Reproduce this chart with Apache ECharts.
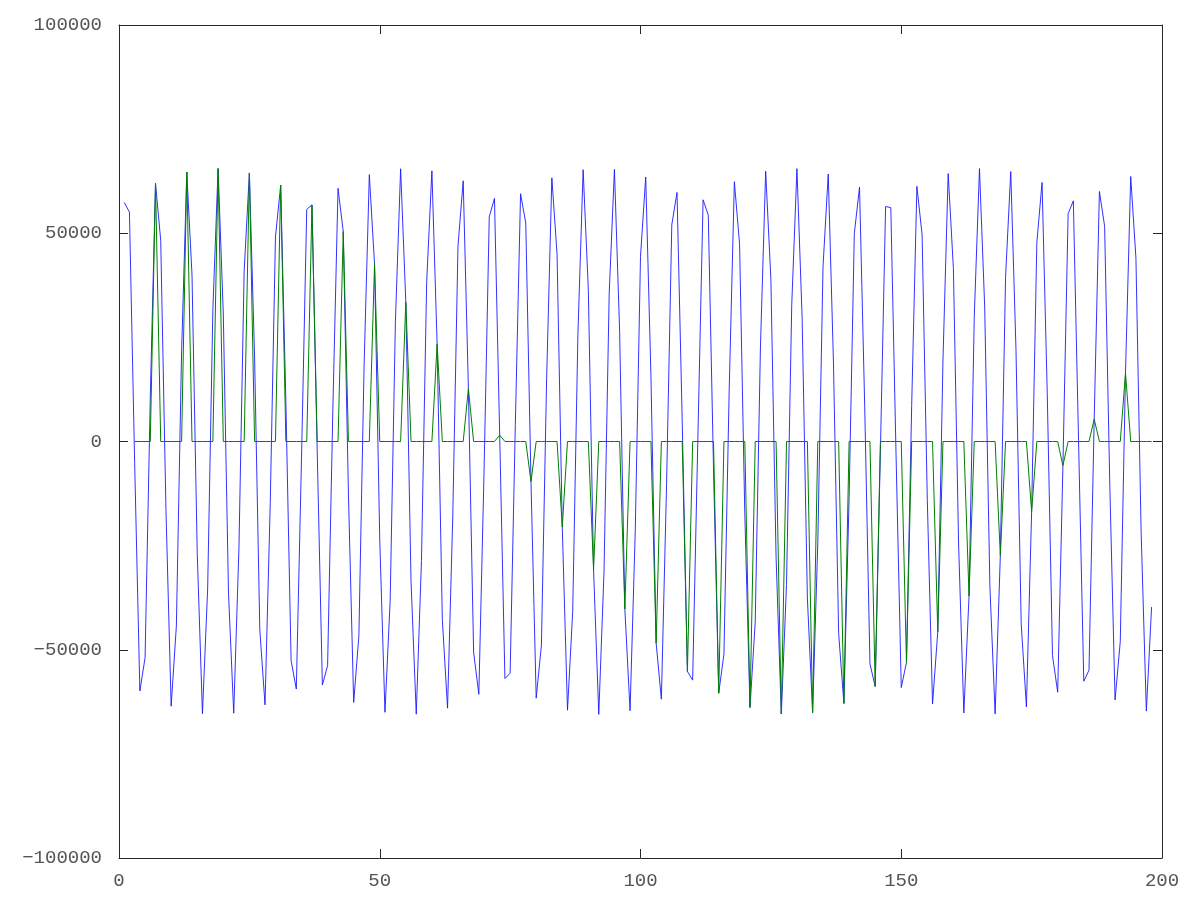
<!DOCTYPE html>
<html>
<head>
<meta charset="utf-8">
<script src="https://cdn.jsdelivr.net/npm/echarts@6/dist/echarts.min.js"></script>
<style>
html,body{margin:0;padding:0;background:#fff;}
#chart{width:1200px;height:900px;}
</style>
</head>
<body>
<div id="chart"></div>
<script>
// sample index (x values) 1..198
var firstX = 1;

// blue signal, one value per sample (x = 1..198)
var blueValues = [
  57400, 55100, -5100, -59900, -51900, 10600,
  62000, 48250, -16100, -63550, -44290, 21460,
  64680, 40010, -26660, -65350, -35430, 31680,
  65530, 30600, -36460, -65240, -25540, 40970,
  64470, 20290, -45190, -63230, -14900, 49070,
  61540, 9400, -52610, -59430, -3830, 55750,
  56800, -1770, -58480, -53810, 7350, 60790,
  50420, -12880, -62660, -46660, 18320, 64070,
  42570, -23620, -65010, -38160, 28750, 65480,
  33470, -33680, -65470, -28540, 38350, 64980,
  23400, -42750, -64020, -18090, 46830, 62590,
  12650, -50570, -60700, -7110, 53950, 58380,
  1530, -56920, -55620, 4070, 59490, 52460,
  -9640, -61620, -48910, 15130, 63300, 45020,
  -20520, -64510, -40790, 25760, 65260, 36260,
  -30810, -65530, -31470, 35640, 65330, 26450,
  -40200, -64640, -21230, 44470, 63490, 15840,
  -48410, -61870, -10380, 52010, 59800, 4800,
  -55220, -57290, 780, 58030, 54370, -6370,
  -60420, -51040, 11910, 62360, 47350, -17370,
  -63850, -43310, 22700, 64880, 38960, -27860,
  -65430, -34320, 32820, 65510, 29420, -37550,
  -65100, -24320, 41990, 64220, 19040, -46130,
  -62880, -13610, 49930, 61070, 8100, -53380,
  -58820, -2520, 56430, 56140, -3080, -59070,
  -53050, 8660, 61270, 49570, -14170, -63030,
  -45730, 19580, 64330, 41560, -24850, -65170,
  -37080, 29930, 65520, 32330, -34800, -65400,
  -27350, 39410, 64800, 22160, -43740, -63730,
  -16820, 47740, 62190, 11350, -51400, -60200,
  -5800, 54690, 57770, 210, -57560, -54920,
  5380, 60030, 51660, -10940, -62050, -48030,
  16410, 63630, 44050, -21770, -64730, -39750
];

// green signal, one value per sample (x = 1..198); null = not drawn
var greenValues = [
  null, null, 0, 0, 0, 0,
  62000, 0, 0, 0, 0, 0,
  64680, 0, 0, 0, 0, 0,
  65530, 0, 0, 0, 0, 0,
  64470, 0, 0, 0, 0, 0,
  61540, 0, 0, 0, 0, 0,
  56800, 0, 0, 0, 0, 0,
  50420, 0, 0, 0, 0, 0,
  42570, 0, 0, 0, 0, 0,
  33470, 0, 0, 0, 0, 0,
  23400, 0, 0, 0, 0, 0,
  12650, 0, 0, 0, 0, 0,
  1530, 0, 0, 0, 0, 0,
  -9640, 0, 0, 0, 0, 0,
  -20520, 0, 0, 0, 0, 0,
  -30810, 0, 0, 0, 0, 0,
  -40200, 0, 0, 0, 0, 0,
  -48410, 0, 0, 0, 0, 0,
  -55220, 0, 0, 0, 0, 0,
  -60420, 0, 0, 0, 0, 0,
  -63850, 0, 0, 0, 0, 0,
  -65430, 0, 0, 0, 0, 0,
  -65100, 0, 0, 0, 0, 0,
  -62880, 0, 0, 0, 0, 0,
  -58820, 0, 0, 0, 0, 0,
  -53050, 0, 0, 0, 0, 0,
  -45730, 0, 0, 0, 0, 0,
  -37080, 0, 0, 0, 0, 0,
  -27350, 0, 0, 0, 0, 0,
  -16820, 0, 0, 0, 0, 0,
  -5800, 0, 0, 0, 0, 0,
  5380, 0, 0, 0, 0, 0,
  16410, 0, 0, 0, 0, 0
];

var xTicks = [0, 50, 100, 150, 200];
var yTicks = [-100000, -50000, 0, 50000, 100000];

function pairs(vals) {
  var out = [];
  for (var i = 0; i < vals.length; i++) {
    if (vals[i] !== null) out.push([firstX + i, vals[i]]);
  }
  return out;
}

var axisColor = '#262626';
var labelStyle = { fontFamily: 'Liberation Mono', fontSize: 19, color: '#555' };

function xAxisDef(pos, showLabel) {
  return {
    type: 'value', position: pos,
    min: xTicks[0], max: xTicks[xTicks.length - 1], interval: xTicks[1] - xTicks[0],
    axisLine: { show: true, onZero: false, lineStyle: { color: axisColor, width: 1 } },
    axisTick: { show: true, inside: true, length: 9, lineStyle: { color: axisColor } },
    axisLabel: Object.assign({ show: showLabel, margin: 13 }, labelStyle),
    splitLine: { show: false }
  };
}
function yAxisDef(pos, showLabel) {
  return {
    type: 'value', position: pos,
    min: yTicks[0], max: yTicks[yTicks.length - 1], interval: yTicks[1] - yTicks[0],
    axisLine: { show: true, onZero: false, lineStyle: { color: axisColor, width: 1 } },
    axisTick: { show: true, inside: true, length: 9, lineStyle: { color: axisColor } },
    axisLabel: Object.assign({
      show: showLabel, margin: 17,
      formatter: function (v) { return String(v).replace('-', '\u2212'); }
    }, labelStyle),
    splitLine: { show: false }
  };
}

var chart = echarts.init(document.getElementById('chart'), null, { renderer: 'canvas' });
chart.setOption({
  animation: false,
  backgroundColor: '#ffffff',
  grid: { left: 119, right: 38, top: 25, bottom: 42, containLabel: false },
  xAxis: [xAxisDef('bottom', true), xAxisDef('top', false)],
  yAxis: [yAxisDef('left', true), yAxisDef('right', false)],
  series: [
    {
      type: 'line', name: 'blue', xAxisIndex: 0, yAxisIndex: 0,
      data: pairs(blueValues), showSymbol: false,
      lineStyle: { color: '#1a1aff', width: 0.9 }, itemStyle: { color: '#1a1aff' }
    },
    {
      type: 'line', name: 'green', xAxisIndex: 0, yAxisIndex: 0,
      data: pairs(greenValues), showSymbol: false,
      lineStyle: { color: '#008000', width: 1 }, itemStyle: { color: '#008000' }
    }
  ]
});
</script>
</body>
</html>
